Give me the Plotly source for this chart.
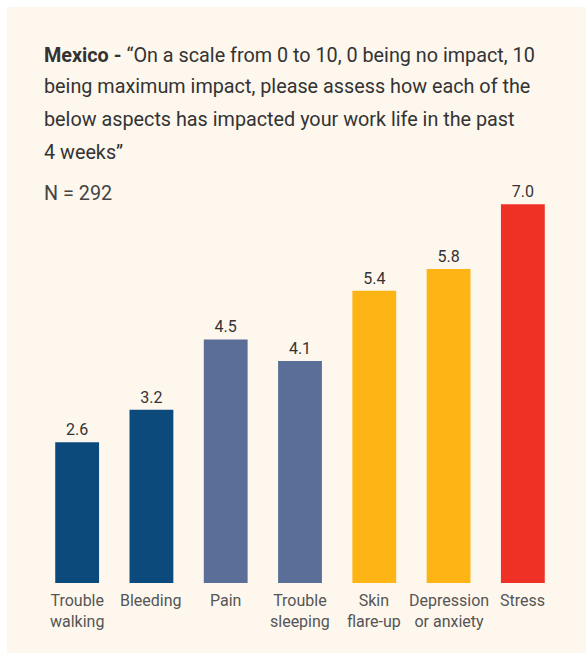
import plotly.graph_objects as go

categories = ["Trouble<br>walking", "Bleeding", "Pain", "Trouble<br>sleeping",
              "Skin<br>flare-up", "Depression<br>or anxiety", "Stress"]
values = [2.6, 3.2, 4.5, 4.1, 5.4, 5.8, 7.0]
bar_colors = ["#0D4A7C", "#0D4A7C", "#5A6E98", "#5A6E98", "#FDB515", "#FDB515", "#EE3124"]

title_lines = [
    "<b>Mexico - </b>“On a scale from 0 to 10, 0 being no impact, 10",
    "being maximum impact, please assess how each of the",
    "below aspects has impacted your work life in the past",
    "4 weeks”",
]
n_label = "N = 292"

FONT = "Roboto"
TXT = "#333333"
BG = "#FEF7EE"

fig = go.Figure(go.Bar(
    x=list(range(len(categories))), y=values,
    marker=dict(color=bar_colors, line=dict(width=0)),
    width=0.59,
    text=[f"{v:.1f}" for v in values],
    textposition="outside",
    textfont=dict(family=FONT, size=16, color=TXT),
    cliponaxis=False,
))

fig.update_layout(
    width=586, height=653,
    paper_bgcolor="white", plot_bgcolor="rgba(0,0,0,0)",
    margin=dict(l=40, r=26, t=150, b=70),
    showlegend=False,
    xaxis=dict(range=[-0.5, len(categories) - 0.5], showgrid=False, zeroline=False,
               showline=False, ticks="", showticklabels=False),
    yaxis=dict(range=[0, 8], visible=False, showgrid=False, zeroline=False),
    shapes=[dict(type="rect", xref="paper", yref="paper", layer="below",
                 x0=-33/520, x1=1.1, y0=-0.2, y1=(583 - 7) / 433,
                 fillcolor=BG, line=dict(width=0))],
)

annotations = []
# category labels
for i, cat in enumerate(categories):
    annotations.append(dict(
        text=cat, xref="x", yref="paper", x=i,
        y=(583 - 589) / 433,
        xanchor="center", yanchor="top", showarrow=False,
        font=dict(family=FONT, size=16, color="#555555")))

# title lines
line_y = [55, 87, 119, 152]
for t, yy in zip(title_lines, line_y):
    annotations.append(dict(
        text=t, xref="paper", yref="paper",
        x=(42 - 40) / 520, y=(583 - yy) / 433,
        xanchor="left", yanchor="middle", showarrow=False,
        font=dict(family=FONT, size=19.8, color=TXT)))
annotations.append(dict(
    text=n_label, xref="paper", yref="paper",
    x=(42 - 40) / 520, y=(583 - 193) / 433,
    xanchor="left", yanchor="middle", showarrow=False,
    font=dict(family=FONT, size=19.8, color="#444444")))
fig.update_layout(annotations=annotations)

fig.write_html("out.html")
